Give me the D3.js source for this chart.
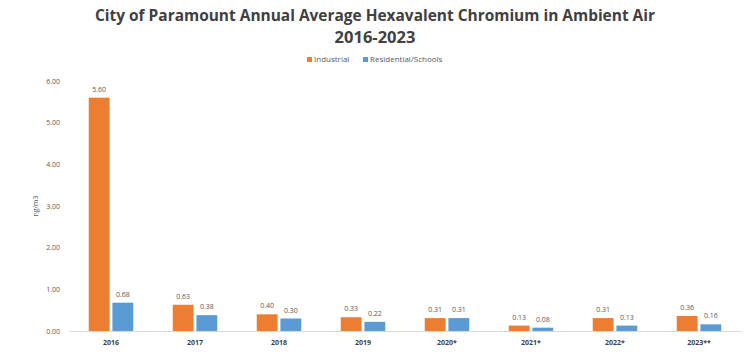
<!DOCTYPE html>
<html>
<head>
<meta charset="utf-8">
<script src="https://cdn.jsdelivr.net/npm/d3@7"></script>
<style>
  body { margin: 0; background: #fff; }
  text { font-family: "Open Sans", "DejaVu Sans", sans-serif; }
</style>
</head>
<body>
<div id="chart"></div>
<script>
// datos del gráfico
const years = ["2016", "2017", "2018", "2019", "2020*", "2021*", "2022*", "2023**"];
const series = ["Industrial", "Residential/Schools"];
const industrial = [5.60, 0.63, 0.40, 0.33, 0.31, 0.13, 0.31, 0.36];
const residential = [0.68, 0.38, 0.30, 0.22, 0.31, 0.08, 0.13, 0.16];
const yTicks = [0, 1, 2, 3, 4, 5, 6];
const colors = ["#ED7D31", "#5B9BD5"];

const width = 751, height = 352;

const svg = d3.select("#chart").append("svg")
    .attr("width", width)
    .attr("height", height);

// título
svg.append("text")
    .attr("x", 375).attr("y", 21)
    .attr("text-anchor", "middle")
    .attr("textLength", 560).attr("lengthAdjust", "spacingAndGlyphs")
    .style("font-size", "16.5px").style("font-weight", "bold").style("fill", "#404040")
    .text("City of Paramount Annual Average Hexavalent Chromium in Ambient Air");
svg.append("text")
    .attr("x", 375).attr("y", 43)
    .attr("text-anchor", "middle")
    .style("font-size", "16.5px").style("font-weight", "bold").style("fill", "#404040")
    .text("2016-2023");

// leyenda
const legend = svg.append("g").attr("transform", "translate(307,57)");
const legX = [0, 56];
series.forEach((s, i) => {
    const g = legend.append("g").attr("transform", `translate(${legX[i]},0)`);
    g.append("rect").attr("width", 5).attr("height", 5).attr("fill", colors[i]);
    g.append("text").attr("x", 7).attr("y", 5)
        .style("font-size", "8px").style("fill", "#595959")
        .text(s);
});

const y = d3.scaleLinear().domain([0, 6]).range([331, 81]);
const x0 = d3.scaleBand().domain(years).range([69, 741]).paddingInner(0.47).paddingOuter(0.235);
const x1 = d3.scaleBand().domain(series).range([0, x0.bandwidth()]).paddingInner(0.12);

// eje y (solo etiquetas)
svg.append("g")
    .selectAll("text")
    .data(yTicks)
    .enter()
    .append("text")
    .attr("x", 60).attr("y", d => y(d) + 2.5)
    .attr("text-anchor", "end")
    .style("font-size", "7px").style("fill", "#595959")
    .text(d => d.toFixed(2));

svg.append("text")
    .attr("transform", "translate(38,206) rotate(-90)")
    .attr("text-anchor", "middle")
    .style("font-size", "7px").style("fill", "#595959")
    .text("ng/m3");

// barras
const rows = years.map((yr, i) => ({ year: yr, vals: [industrial[i], residential[i]] }));
const groups = svg.append("g")
    .selectAll("g")
    .data(rows)
    .enter()
    .append("g")
    .attr("transform", d => `translate(${x0(d.year)},0)`);

groups.selectAll("rect")
    .data(d => d.vals.map((v, i) => ({ key: series[i], v, i })))
    .enter()
    .append("rect")
    .attr("x", d => x1(d.key))
    .attr("y", d => y(d.v))
    .attr("width", x1.bandwidth())
    .attr("height", d => y(0) - y(d.v))
    .attr("fill", d => colors[d.i]);

groups.selectAll("text")
    .data(d => d.vals.map((v, i) => ({ key: series[i], v, i })))
    .enter()
    .append("text")
    .attr("x", d => x1(d.key) + x1.bandwidth() / 2)
    .attr("y", d => y(d.v) - 6)
    .attr("text-anchor", "middle")
    .style("font-size", "7px").style("fill", "#595959")
    .text(d => d.v.toFixed(2));

// eje x
const xAxis = svg.append("g")
    .attr("transform", `translate(0,${y(0)})`)
    .call(d3.axisBottom(x0).tickSize(0).tickPadding(9));
xAxis.select(".domain").attr("stroke", "#d9d9d9");
xAxis.selectAll("text")
    .style("font-size", "7px").style("font-weight", "bold").style("fill", "#404040")
    .style("font-family", "'Open Sans', sans-serif");
</script>
</body>
</html>
